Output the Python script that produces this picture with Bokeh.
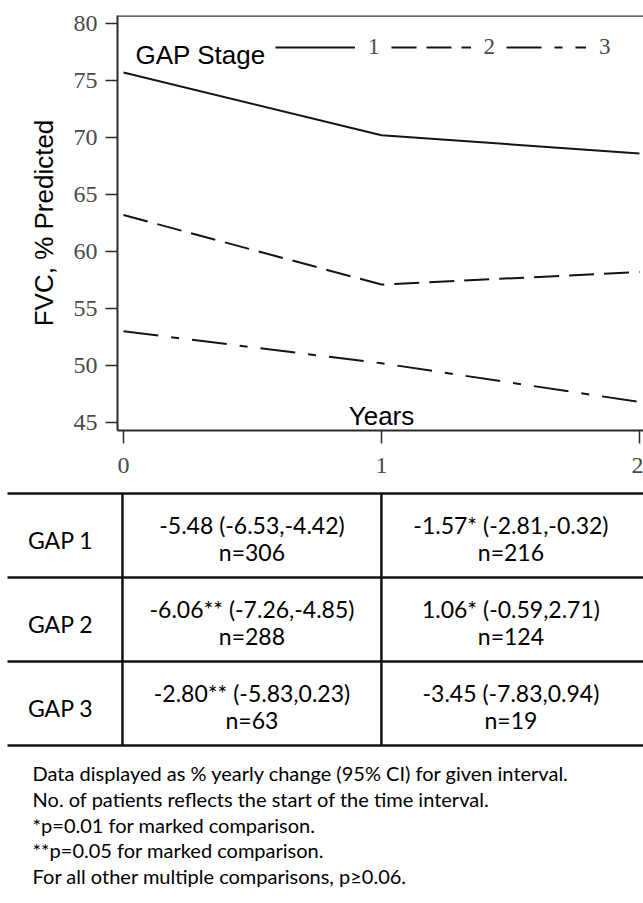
from bokeh.plotting import figure
from bokeh.models import Range1d, Span, Label, Legend, LegendItem
from bokeh.core.properties import value
from bokeh.embed import file_html
from bokeh.resources import INLINE

# ---- data ----
years = [0, 1, 2]
gap1 = [75.7, 70.2, 68.6]
gap2 = [63.2, 57.1, 58.2]
gap3 = [53.0, 50.2, 46.8]
stage_labels = ["1", "2", "3"]
y_ticks = [45, 50, 55, 60, 65, 70, 75, 80]

row_labels = ["GAP 1", "GAP 2", "GAP 3"]
int1_change = ["-5.48", "-6.06**", "-2.80**"]
int1_ci = ["(-6.53,-4.42)", "(-7.26,-4.85)", "(-5.83,0.23)"]
int1_n = [306, 288, 63]
int2_change = ["-1.57*", "1.06*", "-3.45"]
int2_ci = ["(-2.81,-0.32)", "(-0.59,2.71)", "(-7.83,0.94)"]
int2_n = [216, 124, 19]

footnotes = [
    "Data displayed as % yearly change (95% CI) for given interval.",
    "No. of patients reflects the start of the time interval.",
    "*p=0.01 for marked comparison.",
    "**p=0.05 for marked comparison.",
    "For all other multiple comparisons, p\u22650.06.",
]

SERIF = "Liberation Serif"
SANS = "Liberation Sans"
TFONT = "Lato"
INK = "#141414"
TXT = "#000000"

# ---- chart ----
p = figure(width=643, height=490, x_range=Range1d(-0.0233, 2.0155),
           y_range=Range1d(44.3, 80.7), output_backend="svg",
           toolbar_location=None, min_border_left=117, min_border_right=0,
           min_border_top=15, min_border_bottom=60)
p.outline_line_color = None
p.grid.visible = False

r1 = p.line(years, gap1, line_color=INK, line_width=2)
r2 = p.line(years, gap2, line_color=INK, line_width=2, line_dash="25 10")
r3 = p.line(years, gap3, line_color=INK, line_width=2, line_dash="35 13 8 13")

p.add_layout(Span(location=80.7, dimension="width", line_color="#333333", line_width=2.5))

for ax in (p.xaxis[0], p.yaxis[0]):
    ax.axis_line_width = 2
    ax.axis_line_color = "#2a2a2a"
    ax.major_tick_in = 0
    ax.major_tick_line_width = 1.5
    ax.major_tick_line_color = "#2a2a2a"
    ax.minor_tick_line_color = None
    ax.major_label_text_font = SERIF
    ax.major_label_text_font_size = "24px"
    ax.major_label_text_color = "#4a4a4a"

p.yaxis.ticker = y_ticks
p.yaxis.major_tick_out = 12
p.yaxis.major_label_standoff = 8
p.yaxis.axis_label = "FVC, % Predicted"
p.yaxis.axis_label_text_font = SANS
p.yaxis.axis_label_text_font_style = "normal"
p.yaxis.axis_label_text_font_size = "26px"
p.yaxis.axis_label_text_color = TXT
p.yaxis.axis_label_standoff = 12

p.xaxis.ticker = years
p.xaxis.major_tick_out = 13
p.xaxis.major_label_standoff = 14

p.add_layout(Label(x=1, y=45.55, text="Years", text_align="center",
                   text_baseline="alphabetic", text_font=SANS,
                   text_font_size="26px", text_color=TXT))
p.add_layout(Label(x=0.0465, y=77.2, text="GAP Stage", text_align="left",
                   text_baseline="alphabetic", text_font=SANS,
                   text_font_size="26px", text_color=TXT))

legend = Legend(items=[LegendItem(label=stage_labels[i], renderers=[r])
                       for i, r in enumerate([r1, r2, r3])],
                orientation="horizontal", location=(158, 370),
                glyph_width=80, glyph_height=20, label_standoff=13,
                label_width=11, spacing=11, padding=0, margin=0,
                border_line_color=None, background_fill_alpha=0,
                label_text_font=SERIF, label_text_font_size="23px",
                label_text_color="#4a4a4a")
p.add_layout(legend)

# ---- table ----
t = figure(width=643, height=413, x_range=Range1d(-0.471, 2.012),
           y_range=Range1d(4.381, -0.536), output_backend="svg",
           toolbar_location=None, x_axis_type=None, y_axis_type=None,
           min_border=0)
t.outline_line_color = None
t.grid.visible = False

nrows = len(row_labels)
bounds = [i - 0.5 for i in range(nrows + 1)]
t.segment(x0=[-0.444] * len(bounds), y0=bounds, x1=[2.2] * len(bounds), y1=bounds,
          line_color=INK, line_width=2.5)
t.segment(x0=years[:2], y0=[-0.5] * 2, x1=years[:2], y1=[nrows - 0.5] * 2,
          line_color=INK, line_width=2.5)

rows = list(range(nrows))
t.text(x=[-0.239] * nrows, y=[r + 0.05 for r in rows], text=row_labels,
       text_align="center", text_baseline="middle", text_font=value(TFONT),
       text_font_size="23px", text_color=TXT)

for ci, (chg, ci_txt, ns) in enumerate([(int1_change, int1_ci, int1_n),
                                        (int2_change, int2_ci, int2_n)]):
    xc = (years[ci] + years[ci + 1]) / 2
    line1 = [f"{c} {s}" for c, s in zip(chg, ci_txt)]
    line2 = [f"n={n}" for n in ns]
    t.text(x=[xc] * nrows, y=[r - 0.12 for r in rows], text=line1,
           text_align="center", text_baseline="middle", text_font=value(TFONT),
           text_font_size="23px", text_color=TXT)
    t.text(x=[xc] * nrows, y=[r + 0.2 for r in rows], text=line2,
           text_align="center", text_baseline="middle", text_font=value(TFONT),
           text_font_size="23px", text_color=TXT)

foot_y = [2.83, 3.14, 3.45, 3.75, 4.05]
t.text(x=[-0.347] * len(footnotes), y=foot_y, text=footnotes,
       text_align="left", text_baseline="middle", text_font=value(TFONT),
       text_font_size="20px", text_color=TXT)

open("out.html", "w").write(file_html([p, t], INLINE))
